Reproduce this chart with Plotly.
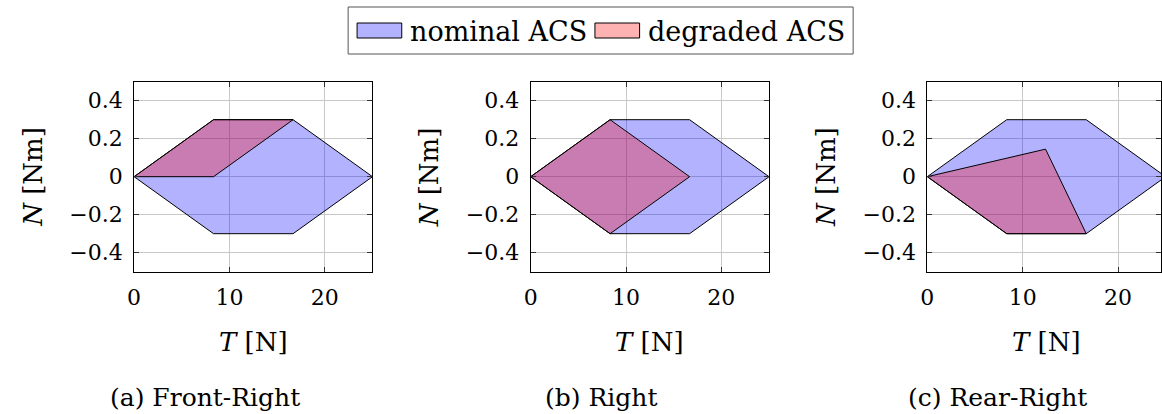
import plotly.graph_objects as go

# Attainable control sets in the thrust / yaw-moment plane
T_nominal = [0, 8.33, 16.67, 25, 16.67, 8.33, 0]
N_nominal = [0, 0.3, 0.3, 0, -0.3, -0.3, 0]

T_degraded_a = [0, 8.33, 16.67, 8.33, 0]
N_degraded_a = [0, 0.3, 0.3, 0, 0]

T_degraded_b = [0, 8.33, 16.67, 8.33, 0]
N_degraded_b = [0, 0.3, 0, -0.3, 0]

T_degraded_c = [0, 12.4, 16.67, 8.33, 0]
N_degraded_c = [0, 0.145, -0.3, -0.3, 0]

captions = ["(a) Front-Right", "(b) Right", "(c) Rear-Right"]
legend_labels = ["nominal ACS", "degraded ACS"]
x_ticks = [0, 10, 20]
y_ticks = [-0.4, -0.2, 0, 0.2, 0.4]
y_tick_text = ["\u22120.4", "\u22120.2", "0", "0.2", "0.4"]

FONT = "DejaVu Serif"
W, H = 1162, 414
NOMINAL_FILL = "rgba(0,0,255,0.3)"
DEGRADED_FILL = "rgba(255,0,0,0.3)"

degraded_sets = [(T_degraded_a, N_degraded_a),
                 (T_degraded_b, N_degraded_b),
                 (T_degraded_c, N_degraded_c)]

# plot-area pixel boxes (left edge) and shared vertical extent
px_left = [128, 527.3, 926.7]
px_width = 240
y_top_px, y_bot_px = 81.7, 271.7


def px_x(p):
    return p / W


def px_y(p):
    return 1 - p / H


fig = go.Figure()

for i, (Td, Nd) in enumerate(degraded_sets):
    xa = "x" if i == 0 else f"x{i+1}"
    ya = "y" if i == 0 else f"y{i+1}"
    fig.add_trace(go.Scatter(
        x=T_nominal, y=N_nominal, mode="lines", fill="toself",
        fillcolor=NOMINAL_FILL, line=dict(color="black", width=1),
        name=legend_labels[0], showlegend=False,
        xaxis=xa, yaxis=ya, hoverinfo="skip"))
    fig.add_trace(go.Scatter(
        x=Td, y=Nd, mode="lines", fill="toself",
        fillcolor=DEGRADED_FILL, line=dict(color="black", width=1),
        name=legend_labels[1], showlegend=False,
        xaxis=xa, yaxis=ya, hoverinfo="skip"))

axis_common = dict(
    showline=True, linecolor="black", linewidth=1, mirror="allticks",
    ticks="inside", ticklen=5, tickcolor="#333", tickwidth=1,
    showgrid=True, gridcolor="#c8c8c8", gridwidth=1, zeroline=False,
    tickfont=dict(family=FONT, size=22, color="black"),
)

layout = dict(
    width=W, height=H, margin=dict(l=0, r=0, t=0, b=0),
    plot_bgcolor="white", paper_bgcolor="white", showlegend=False,
    font=dict(family=FONT),
)

annotations = []
shapes = []
for i in range(3):
    sfx = "" if i == 0 else str(i + 1)
    left = px_left[i]
    right = min(left + px_width, W)
    t_max = (right - left) / px_width * 25
    layout[f"xaxis{sfx}"] = dict(
        axis_common, domain=[px_x(left), px_x(right)], range=[0, t_max],
        tickvals=x_ticks, anchor=f"y{sfx}", ticklabelstandoff=6)
    layout[f"yaxis{sfx}"] = dict(
        axis_common, domain=[px_y(y_bot_px), px_y(y_top_px)],
        range=[-0.5, 0.5], tickvals=y_ticks, ticktext=y_tick_text,
        anchor=f"x{sfx}", ticklabelstandoff=6)
    cx = left + px_width / 2
    annotations.append(dict(
        text="<i>T</i> [N]", x=px_x(cx), y=px_y(342), xref="paper", yref="paper",
        xanchor="center", yanchor="middle", showarrow=False,
        font=dict(family=FONT, size=26, color="black")))
    annotations.append(dict(
        text="<i>N</i> [Nm]", x=px_x(left - 102), y=px_y(177),
        xref="paper", yref="paper", textangle=-90,
        xanchor="center", yanchor="middle", showarrow=False,
        font=dict(family=FONT, size=26, color="black")))
    annotations.append(dict(
        text=captions[i], x=px_x(left + 71), y=px_y(397),
        xref="paper", yref="paper", xanchor="center", yanchor="middle",
        showarrow=False, font=dict(family=FONT, size=25, color="black")))

# legend box with two swatches
shapes.append(dict(type="rect", xref="paper", yref="paper",
                   x0=px_x(343.5), x1=px_x(852), y0=px_y(54), y1=px_y(7),
                   line=dict(color="#555", width=1), fillcolor="white"))
swatches = [(352.5, 397.5, NOMINAL_FILL, 404), (592, 637, DEGRADED_FILL, 643)]
for (sx0, sx1, col, tx), label in zip(swatches, legend_labels):
    shapes.append(dict(type="rect", xref="paper", yref="paper",
                       x0=px_x(sx0), x1=px_x(sx1), y0=px_y(38), y1=px_y(23),
                       line=dict(color="black", width=1), fillcolor=col))
    annotations.append(dict(
        text=label, x=px_x(tx), y=px_y(31), xref="paper", yref="paper",
        xanchor="left", yanchor="middle", showarrow=False,
        font=dict(family=FONT, size=27, color="black")))

layout["annotations"] = annotations
layout["shapes"] = shapes
fig.update_layout(**layout)

fig.write_html("out.html")
